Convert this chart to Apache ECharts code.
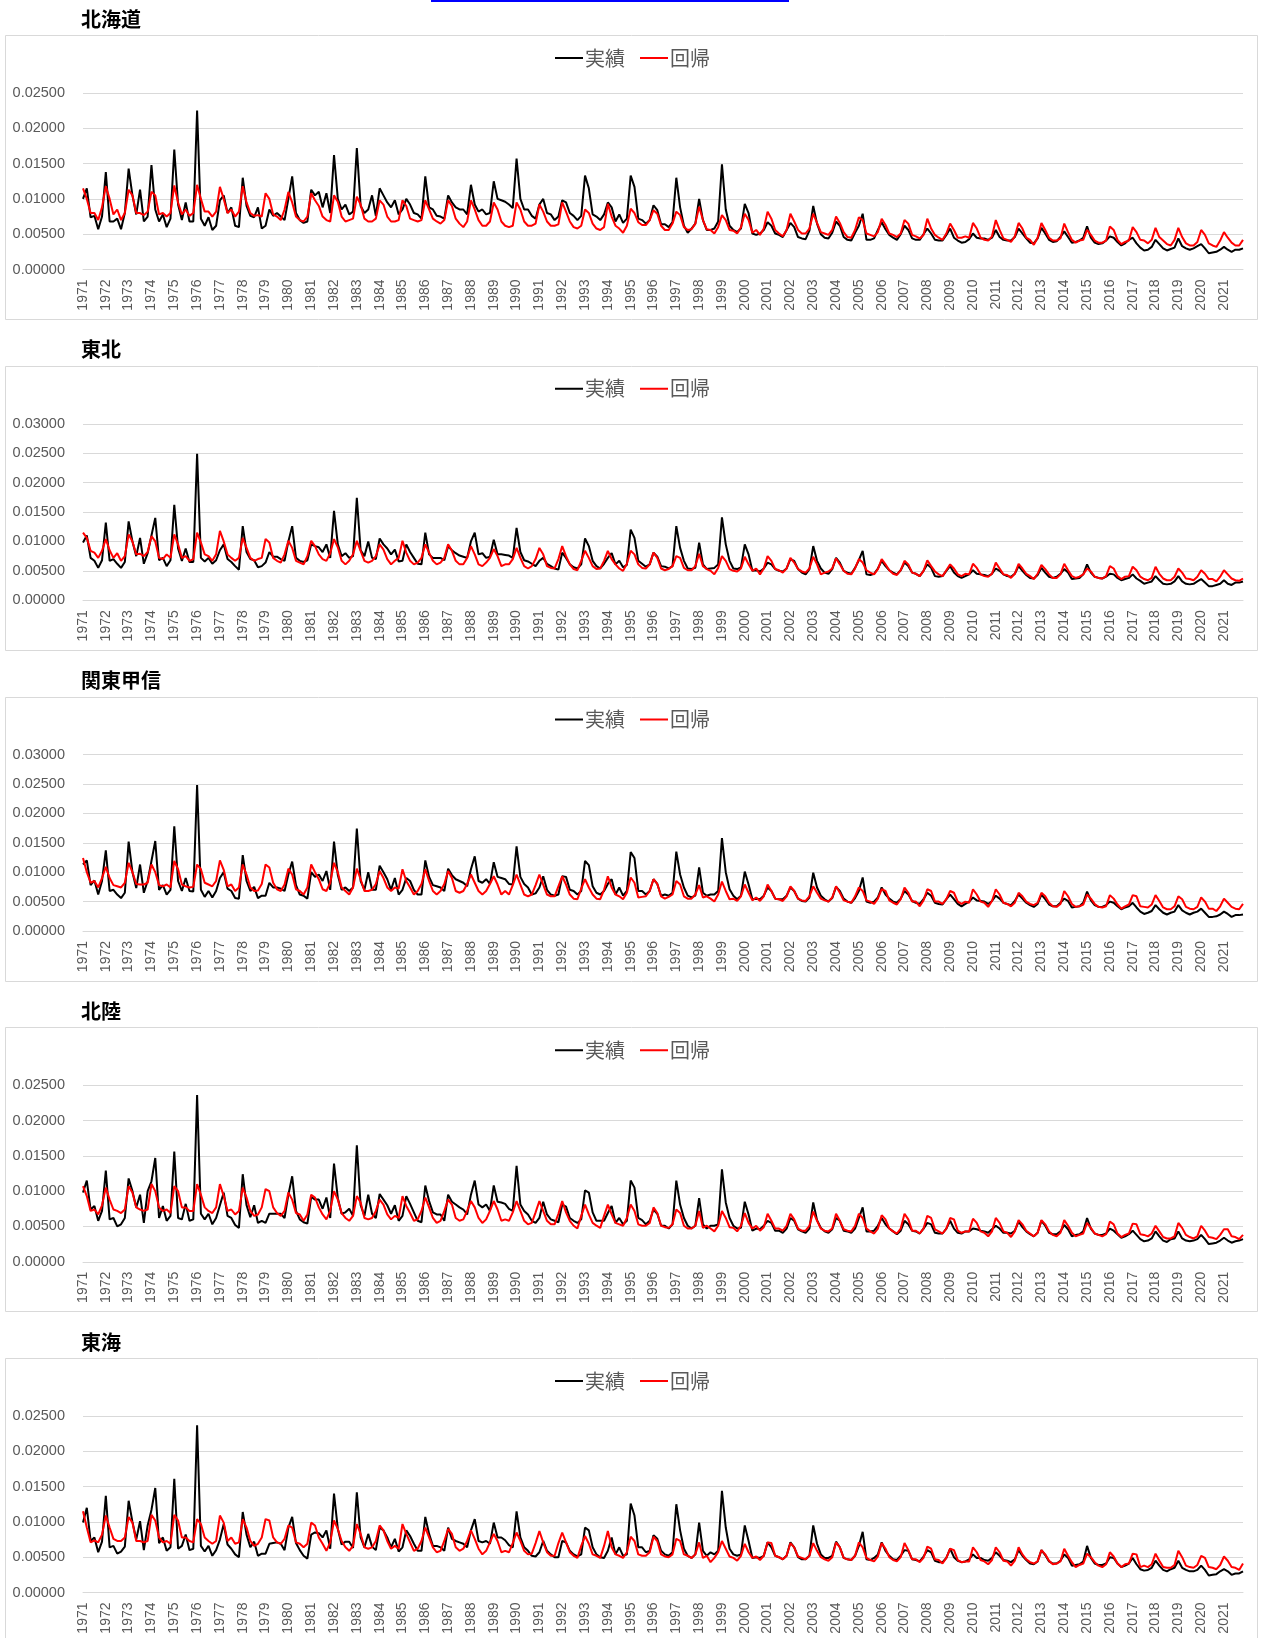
<!DOCTYPE html>
<html>
<head>
<meta charset="utf-8">
<script src="https://cdn.jsdelivr.net/npm/echarts@6/dist/echarts.min.js"></script>
<style>
html, body { margin: 0; padding: 0; background: #fff; }
#main { width: 1261px; height: 1638px; }
</style>
</head>
<body>
<div id="main"></div>
<script>
// values below are in units of 0.0001, six samples per year (Jan, Mar, May, Jul, Sep, Nov)
var years = [1971,1972,1973,1974,1975,1976,1977,1978,1979,1980,1981,1982,1983,1984,1985,1986,1987,
  1988,1989,1990,1991,1992,1993,1994,1995,1996,1997,1998,1999,2000,2001,2002,2003,2004,2005,2006,
  2007,2008,2009,2010,2011,2012,2013,2014,2015,2016,2017,2018,2019,2020,2021];
var months = ['01', '03', '05', '07', '09', '11'];
var regions = ['北海道', '東北', '関東甲信', '北陸', '東海'];
var yMax = [0.025, 0.03, 0.03, 0.025, 0.025];

var hokkaidoActual = [
  100,115,74,76,57,75, 138,68,68,72,57,80, 143,105,78,113,68,75, 148,85,68,78,60,72,
  170,92,70,95,68,68, 225,72,62,74,56,62, 98,105,80,88,62,60, 130,90,76,74,88,58,
  62,85,76,80,75,70, 100,132,80,70,66,68, 113,105,110,88,108,80, 162,100,85,92,78,82,
  172,90,80,85,105,76, 115,105,95,88,98,78, 85,100,92,80,78,72, 132,88,85,76,75,72,
  105,95,88,85,85,78, 120,92,82,85,78,80, 125,100,98,96,92,87, 157,100,85,85,76,72,
  92,100,80,78,70,75, 98,95,80,76,70,76, 133,115,78,75,70,78, 95,88,68,78,66,72,
  133,117,72,70,65,70, 91,84,64,64,60,67, 130,88,62,52,58,65, 100,70,56,56,58,68,
  149,85,62,56,53,58, 93,80,51,49,51,56, 67,62,51,49,46,56, 66,60,46,44,43,55,
  90,65,50,45,44,52, 68,62,46,42,41,52, 62,79,42,42,44,56, 67,57,49,45,42,50,
  62,56,44,42,42,50, 58,51,42,41,41,49, 58,45,41,38,39,43, 51,45,44,44,42,45,
  56,46,42,41,41,46, 58,51,44,38,37,44, 59,51,42,39,40,46, 54,46,38,39,41,45,
  61,45,38,36,37,41, 47,45,39,34,37,42, 45,37,31,27,28,32, 42,36,30,27,29,31,
  44,33,30,28,30,33, 36,30,23,24,25,28, 32,28,25,28,28,30];
var hokkaidoFit = [
  115,100,80,80,70,88, 118,100,78,85,70,80, 113,105,80,80,77,82, 110,105,78,80,75,80,
  119,95,78,85,76,80, 120,100,82,82,75,82, 117,100,80,85,75,82, 118,95,80,76,77,75,
  108,100,78,75,70,85, 110,95,75,70,68,75, 108,98,90,75,70,68, 105,96,75,68,70,72,
  103,92,72,68,68,72, 98,92,75,68,68,70, 98,90,72,70,68,70, 98,85,72,68,65,70,
  98,90,72,65,60,68, 98,85,70,62,62,68, 95,85,68,62,60,62, 95,85,68,62,62,65,
  92,82,68,62,62,64, 95,82,68,60,58,62, 85,80,65,58,56,60, 93,75,62,58,52,62,
  86,80,67,63,63,70, 84,79,62,56,56,65, 82,77,60,56,57,65, 89,70,57,56,51,60,
  77,70,56,55,51,60, 79,70,52,56,49,58, 82,72,56,51,47,56, 79,68,56,51,51,58,
  79,66,53,51,49,56, 75,66,53,46,45,56, 74,70,51,49,47,53, 72,63,51,49,46,51,
  70,65,49,47,44,49, 72,58,49,45,42,51, 65,56,45,45,47,45, 66,58,45,42,41,47,
  70,56,44,42,39,47, 66,58,45,42,35,45, 66,56,45,41,41,44, 65,53,42,38,41,42,
  56,49,41,38,38,41, 61,56,42,36,39,41, 60,53,42,41,37,42, 59,46,41,36,34,42,
  59,46,37,34,34,39, 56,49,37,34,32,41, 53,45,38,34,34,42];

var tohokuActual = [
  98,110,72,67,55,68, 132,67,70,62,55,65, 134,100,75,106,62,80, 110,140,68,72,58,68,
  162,88,67,88,65,65, 249,72,66,72,62,68, 85,95,70,65,58,52, 126,82,70,68,56,58,
  64,82,74,74,70,67, 100,126,72,67,65,68, 95,92,90,82,95,72, 152,95,75,80,72,75,
  174,85,75,100,72,70, 105,95,88,78,86,66, 67,95,82,72,62,61, 115,78,72,72,72,68,
  92,85,80,76,74,72, 100,115,78,80,72,74, 103,78,78,77,76,72, 123,82,68,66,62,58,
  67,72,62,58,54,52, 81,72,61,56,54,61, 105,92,67,58,54,62, 72,80,61,67,56,60,
  120,106,67,62,57,61, 81,74,58,57,54,58, 126,89,67,54,53,55, 98,61,53,54,55,61,
  141,95,67,54,53,56, 95,78,50,51,49,54, 64,61,53,50,49,54, 70,67,53,47,44,53,
  92,67,54,47,45,53, 72,64,50,47,45,55, 68,84,44,43,45,54, 67,58,51,47,44,51,
  64,58,47,45,41,50, 61,55,41,40,41,50, 58,47,41,38,41,44, 51,45,44,43,41,45,
  54,50,44,41,40,45, 58,50,43,38,37,43, 55,47,40,38,40,45, 53,47,36,37,38,44,
  61,47,40,38,37,40, 45,44,38,34,36,38, 44,37,33,28,30,32, 41,34,28,27,28,32,
  41,32,28,27,28,32, 36,30,24,24,26,28, 34,28,26,30,30,32];
var tohokuFit = [
  115,106,84,81,72,84, 104,85,72,80,67,75, 112,100,78,79,75,82, 109,100,72,70,78,72,
  112,95,72,75,67,70, 115,98,78,75,67,78, 118,100,78,72,67,72, 106,89,72,67,70,72,
  104,98,72,67,64,78, 101,89,67,64,61,75, 101,92,78,70,67,80, 104,90,67,61,67,78,
  101,84,67,64,67,75, 95,86,70,61,67,72, 101,81,67,61,64,72, 95,81,67,61,64,72,
  95,84,67,61,61,72, 92,78,61,58,64,72, 87,75,58,61,61,70, 89,72,58,54,58,70,
  89,78,58,55,54,70, 92,75,61,53,51,67, 84,72,58,53,54,67, 84,70,61,54,50,62,
  84,78,61,55,54,61, 81,72,54,51,53,58, 75,72,55,51,51,58, 79,58,53,50,44,55,
  75,67,53,50,49,54, 74,61,50,54,44,54, 75,67,53,51,47,54, 72,64,53,49,47,54,
  74,61,44,47,49,54, 71,61,50,45,44,54, 70,64,51,47,44,53, 70,61,51,45,43,51,
  67,61,47,45,41,50, 68,58,49,44,41,51, 61,54,44,41,45,44, 62,55,44,41,40,45,
  64,54,44,43,38,45, 62,54,45,41,36,45, 60,53,44,38,38,44, 62,51,41,38,40,44,
  54,49,40,38,37,41, 58,54,41,36,40,41, 57,51,40,36,34,38, 57,45,37,34,34,40,
  54,47,37,36,34,40, 51,45,36,36,32,40, 51,44,37,34,33,37];

var kantoActual = [
  113,120,78,86,62,85, 137,68,70,62,56,65, 152,100,73,113,65,85, 119,153,70,78,62,70,
  178,85,68,90,68,67, 248,70,58,68,57,68, 90,100,72,68,56,55, 129,85,68,75,56,60,
  60,82,74,74,72,68, 96,118,78,62,60,55, 100,92,96,85,102,70, 152,95,70,74,68,74,
  174,85,70,100,70,70, 111,100,88,70,90,62, 70,90,85,70,62,62, 120,92,78,76,74,68,
  106,95,88,85,82,76, 105,127,85,82,88,80, 117,92,90,88,80,79, 144,92,80,74,62,64,
  74,93,70,62,60,62, 93,92,70,68,62,68, 119,112,76,65,62,68, 80,88,62,74,60,68,
  134,124,68,68,62,68, 88,80,60,62,60,65, 135,96,74,60,57,60, 108,65,60,62,62,68,
  158,100,71,60,54,60, 101,79,54,55,54,60, 74,68,55,54,54,60, 74,68,55,51,50,57,
  99,74,60,54,50,56, 75,68,55,50,48,56, 68,91,50,48,50,57, 74,62,55,50,48,55,
  68,62,51,48,46,54, 65,60,48,46,45,54, 62,54,46,42,46,50, 57,52,51,50,46,51,
  60,55,48,46,44,51, 62,55,48,44,41,46, 62,54,45,42,42,48, 55,51,40,41,42,48,
  67,52,44,41,41,44, 50,48,42,37,40,42, 48,40,33,29,31,34, 44,37,31,28,31,33,
  44,35,31,28,31,33, 38,31,24,24,25,28, 33,29,24,27,27,28];
var kantoFit = [
  124,100,82,85,74,90, 109,90,78,76,74,82, 116,100,80,79,79,82, 113,100,78,76,79,74,
  119,105,79,76,74,75, 113,105,82,79,76,85, 120,104,76,79,68,74, 113,96,74,68,69,80,
  113,108,82,71,68,79, 106,96,71,68,62,74, 113,100,88,71,68,82, 116,100,74,68,62,74,
  106,88,68,68,70,80, 102,90,74,68,74,72, 105,85,74,62,68,80, 105,85,68,62,68,80,
  102,90,68,65,68,80, 96,82,68,62,68,80, 93,79,62,68,62,78, 96,79,62,59,62,78,
  96,79,62,59,59,76, 93,79,62,55,54,72, 88,74,62,55,54,70, 93,74,62,59,54,65,
  91,82,57,58,59,68, 88,80,59,55,58,62, 85,79,59,55,55,62, 78,57,59,55,50,62,
  84,68,54,55,51,59, 79,65,52,57,51,59, 79,68,55,54,51,59, 76,68,55,52,51,59,
  76,65,55,52,50,57, 76,65,52,50,48,59, 74,68,52,50,46,55, 71,68,52,48,45,54,
  74,65,50,50,42,52, 71,68,50,50,46,54, 68,65,50,46,50,48, 71,62,50,48,41,51,
  71,62,48,46,42,48, 65,59,50,46,44,48, 65,59,48,42,41,46, 68,59,46,41,42,45,
  62,55,46,41,40,42, 61,55,45,38,42,45, 61,59,42,41,40,45, 61,51,40,37,37,42,
  59,54,41,38,37,41, 57,50,38,38,34,42, 55,48,41,38,37,46];

var hokurikuActual = [
  98,115,74,79,58,72, 129,60,62,50,53,62, 118,100,77,95,55,100, 114,147,62,79,58,65,
  156,62,60,82,58,60, 236,68,60,68,53,62, 80,98,65,62,52,48, 124,80,63,80,55,58,
  55,68,68,68,68,62, 95,121,72,60,56,54, 92,88,88,75,91,62, 139,90,68,70,75,65,
  165,80,65,95,68,62, 96,88,80,68,80,58, 65,93,82,70,58,56, 108,86,70,67,67,58,
  95,85,81,77,74,67, 95,115,81,77,81,72, 108,85,84,82,75,72, 136,81,72,67,58,55,
  62,85,67,60,58,56, 81,78,62,58,55,60, 101,98,70,58,58,58, 69,79,55,62,53,58,
  115,105,62,59,53,58, 74,68,51,51,47,53, 115,81,62,51,47,51, 90,53,47,51,51,53,
  131,84,62,51,47,48, 85,67,44,47,46,51, 58,55,44,44,41,47, 62,58,46,43,41,47,
  84,59,48,43,41,46, 62,58,44,43,41,47, 62,77,43,43,44,51, 62,53,47,43,39,44,
  58,53,44,43,40,47, 55,53,41,40,40,47, 58,47,41,40,43,43, 47,46,44,43,41,46,
  51,47,41,41,40,44, 57,49,43,39,36,41, 58,51,41,39,39,43, 52,46,36,38,39,43,
  62,47,40,38,38,40, 47,44,39,34,36,39, 44,38,32,29,30,33, 43,36,30,28,32,33,
  43,33,30,29,30,32, 38,32,25,26,27,30, 34,30,27,29,30,32];
var hokurikuFit = [
  107,93,72,74,67,80, 105,88,74,72,69,74, 107,98,77,74,72,74, 110,100,77,72,74,69,
  107,100,77,77,72,72, 110,95,77,72,69,77, 110,93,72,74,67,72, 105,91,72,65,67,77,
  103,100,77,69,65,72, 98,88,69,67,58,67, 95,91,77,67,60,72, 100,88,69,62,58,65,
  93,84,62,60,62,72, 88,81,67,60,65,62, 93,79,69,58,60,72, 91,77,62,55,58,72,
  88,81,62,58,60,72, 86,77,62,55,60,72, 86,74,58,60,58,70, 86,72,58,53,55,70,
  86,72,58,53,53,68, 86,70,58,51,47,65, 81,67,55,51,48,65, 81,67,55,53,51,62,
  81,72,53,51,51,55, 77,69,51,49,48,53, 74,69,51,47,47,51, 72,48,51,47,43,51,
  72,62,49,48,43,51, 69,55,47,51,44,49, 68,58,47,47,44,51, 68,60,47,44,44,51,
  71,58,47,44,43,47, 68,58,46,44,43,51, 68,62,47,43,40,47, 66,60,47,43,40,47,
  68,60,44,44,40,47, 65,62,46,43,40,47, 62,60,44,41,43,43, 61,55,43,41,36,43,
  62,55,43,41,35,43, 59,53,44,40,36,41, 59,53,43,38,36,41, 59,51,41,36,38,40,
  55,48,40,38,36,39, 57,53,40,35,38,40, 54,53,39,38,36,40, 51,43,35,33,33,36,
  55,48,38,35,33,36, 51,44,35,34,32,38, 46,46,36,35,32,38];

var tokaiActual = [
  99,120,73,78,57,72, 137,64,66,55,58,65, 130,100,75,101,60,95, 117,148,70,78,59,64,
  161,62,66,82,60,62, 237,66,58,66,52,60, 75,97,68,62,54,50, 114,82,64,72,52,55,
  55,69,70,71,69,60, 92,107,70,60,52,48, 82,85,84,78,88,62, 140,90,68,72,72,63,
  142,78,64,83,65,60, 92,88,78,64,76,58, 64,88,80,69,59,59, 107,83,66,66,64,59,
  92,76,73,71,69,64, 88,104,73,71,73,69, 99,78,78,74,67,64, 115,78,64,59,52,51,
  57,73,59,54,50,50, 73,71,59,54,51,54, 92,88,64,54,50,49, 59,78,54,64,52,54,
  126,109,64,64,57,59, 81,76,59,54,52,57, 125,88,62,52,49,54, 99,59,52,57,54,59,
  144,92,62,54,52,54, 95,73,49,50,49,52, 71,64,52,50,47,52, 71,64,50,47,47,52,
  95,69,54,49,49,52, 72,64,49,47,46,52, 66,86,47,46,49,54, 71,59,52,47,46,52,
  60,59,47,46,44,51, 60,57,45,43,43,49, 62,50,45,43,44,47, 54,49,49,46,45,49,
  57,52,46,45,43,47, 60,52,46,41,40,44, 60,53,44,41,41,45, 54,49,38,39,40,44,
  66,49,41,39,39,41, 50,49,41,36,38,41, 49,40,33,31,32,35, 45,38,32,30,33,35,
  45,35,32,30,30,32, 38,32,24,25,26,30, 33,30,25,27,27,30];
var tokaiFit = [
  115,92,71,74,71,82, 109,92,76,73,73,78, 107,99,73,73,71,73, 110,102,78,71,73,69,
  110,102,78,78,73,71, 104,97,78,73,69,73, 109,99,73,78,69,71, 104,92,73,66,69,78,
  104,102,78,71,69,76, 95,92,71,69,64,69, 99,95,78,69,59,71, 102,90,73,64,59,66,
  97,83,64,62,64,73, 95,88,73,62,66,62, 97,83,71,59,62,73, 92,78,64,57,59,73,
  90,83,64,59,62,73, 88,76,62,54,59,71, 83,73,57,59,57,70, 85,73,59,54,55,70,
  87,71,57,52,52,70, 85,71,57,52,49,66, 80,69,54,52,49,66, 87,64,54,52,49,57,
  79,73,54,52,52,57, 79,73,54,51,50,54, 76,73,54,52,49,54, 71,49,52,43,49,57,
  73,62,51,49,45,52, 69,57,49,51,46,52, 71,70,52,50,47,52, 70,64,51,49,47,52,
  70,59,50,47,45,50, 71,64,49,47,46,52, 71,64,49,46,44,51, 70,62,50,46,44,50,
  70,60,47,47,43,49, 65,62,47,46,41,49, 62,60,46,43,44,44, 64,57,46,44,40,46,
  64,57,45,44,38,45, 64,54,47,43,41,44, 60,54,45,40,41,44, 62,52,43,36,39,41,
  55,50,43,38,36,40, 57,51,41,36,40,41, 55,54,36,38,36,40, 55,45,36,35,35,39,
  59,50,38,36,35,39, 52,49,36,35,33,39, 51,45,36,35,32,41];

var actualSeries = [hokkaidoActual, tohokuActual, kantoActual, hokurikuActual, tokaiActual];
var fitSeries = [hokkaidoFit, tohokuFit, kantoFit, hokurikuFit, tokaiFit];

var categories = [];
years.forEach(function (y) {
  months.forEach(function (m) { categories.push(y + '/' + m); });
});

var GRAY = '#595959';
var LINE = '#d9d9d9';
var option = {
  animation: false,
  title: [],
  legend: [],
  grid: [],
  xAxis: [],
  yAxis: [],
  series: [],
  graphic: [{
    type: 'rect',
    shape: { x: 431, y: 0, width: 358, height: 2 },
    style: { fill: '#0000ff' }
  }]
};

regions.forEach(function (name, k) {
  var top = 93 + 330.75 * k;
  option.graphic.push({
    type: 'rect',
    z: -1,
    shape: { x: 5.5, y: Math.round(top - 58) + 0.5, width: 1252, height: 284 },
    style: { fill: '#fff', stroke: LINE, lineWidth: 1 }
  });
  option.title.push({
    text: name,
    left: 76,
    top: top - 89,
    textStyle: { fontSize: 20, fontWeight: 'bold', color: '#000', fontFamily: 'Noto Sans CJK JP' }
  });
  option.legend.push({
    left: 550,
    top: top - 50,
    itemWidth: 28,
    itemHeight: 2,
    itemGap: 15,
    icon: 'rect',
    selectedMode: false,
    textStyle: { fontSize: 20, color: GRAY, fontFamily: 'Noto Sans CJK JP', padding: [0, 0, 0, -3] },
    data: ['実績', '回帰']
  });
  option.grid.push({ left: 83, right: 18, top: top, height: 176.5 });
  option.xAxis.push({
    type: 'category',
    gridIndex: k,
    data: categories,
    boundaryGap: false,
    axisLine: { lineStyle: { color: LINE } },
    axisTick: { show: false },
    axisLabel: {
      interval: 5,
      rotate: 90,
      margin: 10,
      fontSize: 14,
      color: GRAY,
      fontFamily: 'Liberation Sans',
      formatter: function (v) { return v.slice(0, 4); }
    }
  });
  option.yAxis.push({
    type: 'value',
    gridIndex: k,
    min: 0,
    max: yMax[k],
    interval: 0.005,
    axisLine: { show: false },
    axisTick: { show: false },
    splitLine: { lineStyle: { color: LINE } },
    axisLabel: {
      margin: 18,
      fontSize: 14.5,
      color: GRAY,
      fontFamily: 'Liberation Sans',
      formatter: function (v) { return v.toFixed(5); }
    }
  });
  option.series.push({
    name: '実績',
    type: 'line',
    xAxisIndex: k,
    yAxisIndex: k,
    showSymbol: false,
    silent: true,
    data: actualSeries[k].map(function (v) { return v / 10000; }),
    lineStyle: { color: '#000', width: 2 },
    itemStyle: { color: '#000' }
  });
  option.series.push({
    name: '回帰',
    type: 'line',
    xAxisIndex: k,
    yAxisIndex: k,
    showSymbol: false,
    silent: true,
    data: fitSeries[k].map(function (v) { return v / 10000; }),
    lineStyle: { color: '#ff0000', width: 2 },
    itemStyle: { color: '#ff0000' }
  });
});

var myChart = echarts.init(document.getElementById('main'));
myChart.setOption(option);
</script>
</body>
</html>
